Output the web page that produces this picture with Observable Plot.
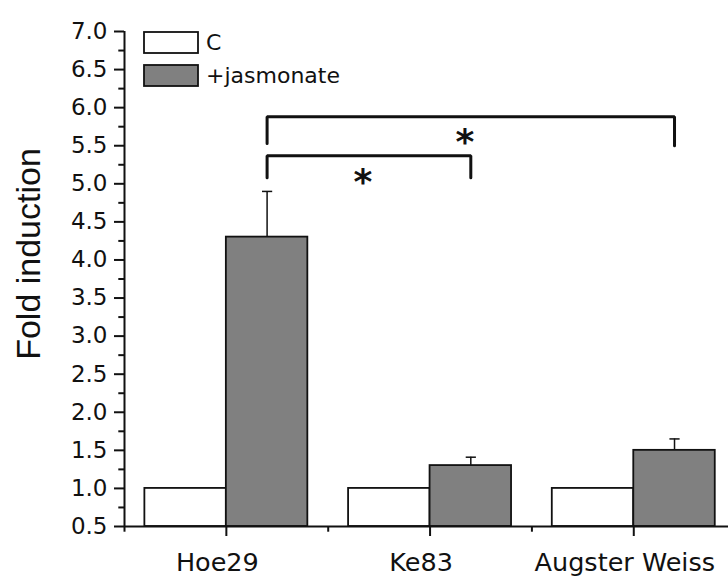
<!DOCTYPE html>
<html>
<head>
<meta charset="utf-8">
<script src="https://cdn.jsdelivr.net/npm/d3@7"></script>
<script src="https://cdn.jsdelivr.net/npm/@observablehq/plot@0.6"></script>
<style>
  html, body { margin: 0; padding: 0; background: white; }
  #chart { width: 728px; height: 576px; }
</style>
</head>
<body>
<div id="chart"></div>
<script>
// ---- data ----
const categories = ["Hoe29", "Ke83", "Augster Weiss"];
const seriesNames = ["C", "+jasmonate"];
const controlValues = [1.0, 1.0, 1.0];
const jasmonateValues = [4.3, 1.3, 1.5];
const jasmonateErrors = [0.6, 0.11, 0.15];
const yMajorTicks = [0.5, 1.0, 1.5, 2.0, 2.5, 3.0, 3.5, 4.0, 4.5, 5.0, 5.5, 6.0, 6.5, 7.0];
const yMinorTicks = [0.75, 1.25, 1.75, 2.25, 2.75, 3.25, 3.75, 4.25, 4.75, 5.25, 5.75, 6.25, 6.75];
const xMinorTicks = [-0.5, 0.5, 1.5];
const yTitle = "Fold induction";
// significance brackets between +jasmonate bars
const compFrom = ["Hoe29", "Hoe29"];
const compTo = ["Ke83", "Augster Weiss"];
const compTop = [5.37, 5.88];
const compFootFrom = [5.08, 5.53];
const compFootTo = [5.08, 5.5];
const compStarY = [5.02, 5.54];
const compLabel = ["*", "*"];

// ---- build tables ----
const barW = 0.4;
const rows = categories.flatMap((c, i) => [
  {cat: c, series: seriesNames[0], value: controlValues[i], x1: i - barW, x2: i},
  {cat: c, series: seriesNames[1], value: jasmonateValues[i], err: jasmonateErrors[i], x1: i, x2: i + barW}
]);
const jasRows = rows.filter(d => d.series === seriesNames[1]).map(d => ({...d, xc: (d.x1 + d.x2) / 2}));
const jasX = c => categories.indexOf(c) + barW / 2;
const bracketPts = compFrom.flatMap((f, k) => [
  {k, x: jasX(f), y: compFootFrom[k]},
  {k, x: jasX(f), y: compTop[k]},
  {k, x: jasX(compTo[k]), y: compTop[k]},
  {k, x: jasX(compTo[k]), y: compFootTo[k]}
]);
const stars = compFrom.map((f, k) => ({x: (jasX(f) + jasX(compTo[k])) / 2, y: compStarY[k], t: compLabel[k]}));

const yMin = yMajorTicks[0], yMax = yMajorTicks[yMajorTicks.length - 1];
const ink = "#111";

const plot = Plot.plot({
  width: 728,
  height: 576,
  marginLeft: 124,
  marginRight: 0,
  marginTop: 31,
  marginBottom: 50,
  x: {domain: [-0.5, 2.465], axis: null, label: null},
  y: {domain: [yMin, yMax], axis: null, label: null},
  color: {domain: seriesNames, range: ["white", "#808080"]},
  style: {fontFamily: "DejaVu Sans", color: ink, background: "white", overflow: "visible"},
  marks: [
    Plot.rect(rows, {x1: "x1", x2: "x2", y1: () => yMin, y2: "value", fill: "series", stroke: ink, strokeWidth: 1.8}),
    Plot.ruleX(jasRows, {x: "xc", y1: "value", y2: d => d.value + d.err, stroke: ink, strokeWidth: 1.5}),
    Plot.link(jasRows, {x1: d => d.xc - 0.025, x2: d => d.xc + 0.025, y1: d => d.value + d.err, y2: d => d.value + d.err, stroke: ink, strokeWidth: 1.5}),
    Plot.line(bracketPts, {x: "x", y: "y", z: "k", stroke: ink, strokeWidth: 3, strokeLinejoin: "miter", curve: "linear"}),
    Plot.text(stars, {x: "x", y: "y", dx: -6, text: "t", fontSize: 36, fontWeight: "bold", fontFamily: "DejaVu Sans", fill: ink}),
    Plot.ruleX([-0.5], {y1: yMin, y2: yMax, stroke: ink, strokeWidth: 2}),
    Plot.ruleY([yMin], {stroke: ink, strokeWidth: 2}),
    Plot.axisY(yMajorTicks, {tickSize: 10, tickPadding: 7, tickFormat: d3.format(".1f"), fontSize: 23, stroke: ink, strokeWidth: 2, fill: ink, label: null}),
    Plot.axisY(yMinorTicks, {tickSize: 5.7, tickFormat: () => "", stroke: ink, strokeWidth: 2, label: null}),
    Plot.axisX([0, 1, 2], {tickSize: 10, tickFormat: () => "", stroke: ink, strokeWidth: 2, label: null}),
    Plot.axisX([0, 1, 2], {tickSize: 0, tickPadding: 26, dx: -9, tickFormat: i => categories[i], fontSize: 25.5, fill: ink, label: null}),
    Plot.axisX(xMinorTicks, {tickSize: 5.7, tickFormat: () => "", stroke: ink, strokeWidth: 2, label: null})
  ]
});

// legend and axis title overlays
const svg = d3.select(plot);
const leg = svg.append("g")
  .attr("font-family", "DejaVu Sans")
  .attr("font-size", 22)
  .attr("text-anchor", "start")
  .attr("fill", ink);
const legFills = ["white", "#808080"];
seriesNames.forEach((s, k) => {
  const top = 32 + k * 33;
  leg.append("rect").attr("x", 144).attr("y", top).attr("width", 54).attr("height", 21)
    .attr("fill", legFills[k]).attr("stroke", ink).attr("stroke-width", 1.8);
  leg.append("text").attr("x", 206).attr("y", top + 17.5).attr("text-anchor", "start").text(s);
});
svg.append("text")
  .attr("transform", "translate(40,254) rotate(-90)")
  .attr("text-anchor", "middle")
  .attr("font-family", "Liberation Sans")
  .attr("font-size", 34)
  .attr("fill", ink)
  .text(yTitle);

document.getElementById("chart").appendChild(plot);
</script>
</body>
</html>
